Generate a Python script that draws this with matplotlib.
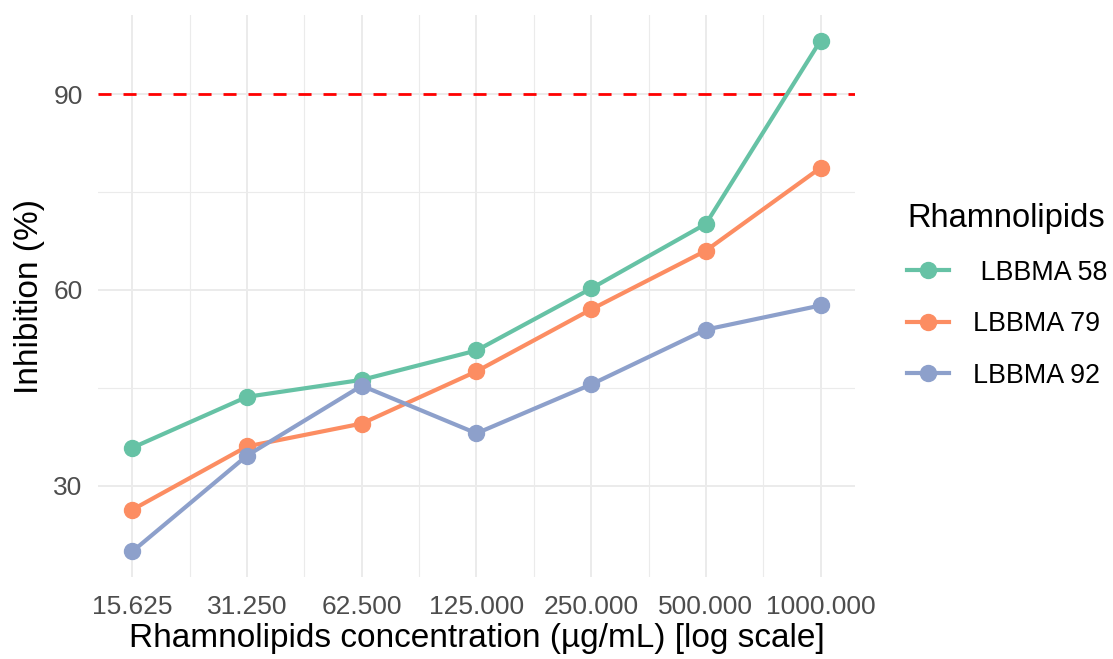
import matplotlib
matplotlib.use('Agg')
import matplotlib.pyplot as plt
import matplotlib.ticker as mtick
from matplotlib.lines import Line2D
import numpy as np

plt.rcParams['font.family'] = ['Liberation Sans', 'DejaVu Sans']

# Data
concentrations = [15.625, 31.25, 62.5, 125.0, 250.0, 500.0, 1000.0]
tick_labels = ['15.625', '31.250', '62.500', '125.000', '250.000', '500.000', '1000.000']
series_names = [' LBBMA 58', 'LBBMA 79', 'LBBMA 92']
lbbma_58 = [35.8, 43.6, 46.2, 50.7, 60.2, 70.1, 98.2]
lbbma_79 = [26.3, 36.0, 39.5, 47.5, 57.0, 66.0, 78.7]
lbbma_92 = [19.9, 34.6, 45.3, 38.0, 45.5, 53.9, 57.6]
colors = ['#66C2A5', '#FC8D62', '#8DA0CB']
threshold = 90

dpi = 100
fig = plt.figure(figsize=(1113 / dpi, 659 / dpi), dpi=dpi)
ax = fig.add_axes([98 / 1113, 82 / 659, (855 - 98) / 1113, (577 - 15) / 659])

# ggplot-like limits (5% expansion on log2 x and linear y)
lx = np.log2(concentrations)
span = lx[-1] - lx[0]
ax.set_xscale('log', base=2)
ax.set_xlim(2 ** (lx[0] - 0.05 * span), 2 ** (lx[-1] + 0.05 * span))
all_y = lbbma_58 + lbbma_79 + lbbma_92
yr = max(all_y) - min(all_y)
ax.set_ylim(min(all_y) - 0.05 * yr, max(all_y) + 0.05 * yr)

# grid
ax.set_xticks(concentrations)
ax.set_xticklabels(tick_labels)
ax.xaxis.set_minor_locator(mtick.FixedLocator(
    [2 ** ((lx[i] + lx[i + 1]) / 2) for i in range(len(lx) - 1)]))
ax.xaxis.set_minor_formatter(mtick.NullFormatter())
ax.set_yticks([30, 60, 90])
ax.yaxis.set_minor_locator(mtick.FixedLocator([45, 75]))
ax.grid(which='major', color='#EBEBEB', linewidth=1.4)
ax.grid(which='minor', color='#EBEBEB', linewidth=0.8)
ax.set_axisbelow(True)
for s in ax.spines.values():
    s.set_visible(False)
ax.tick_params(which='both', length=0)
ax.tick_params(axis='x', pad=13, labelsize=19, labelcolor='#4D4D4D')
ax.tick_params(axis='y', pad=11, labelsize=19, labelcolor='#4D4D4D')

ax.axhline(threshold, color='#FF0000', linewidth=2, linestyle=(0, (4.7, 4.3)), zorder=1.5)

for ys, c in zip([lbbma_58, lbbma_79, lbbma_92], colors):
    ax.plot(concentrations, ys, color=c, linewidth=3, marker='o',
            markersize=11.5, zorder=3)

ax.set_xlabel('Rhamnolipids concentration (µg/mL) [log scale]', fontsize=24, labelpad=3)
ax.set_ylabel('Inhibition (%)', fontsize=24, labelpad=6)

handles = [Line2D([], [], color=c, linewidth=3, marker='o', markersize=11.5) for c in colors]
leg = fig.legend(handles, series_names, title='Rhamnolipids', loc='center left',
                 bbox_to_anchor=(883 / 1113, 1 - 296 / 659), frameon=False,
                 fontsize=19.4, title_fontsize=23.5, handlelength=1.55,
                 handletextpad=0.9, labelspacing=0.95, alignment='left')

fig.savefig('out.png', dpi=dpi, facecolor='white')
